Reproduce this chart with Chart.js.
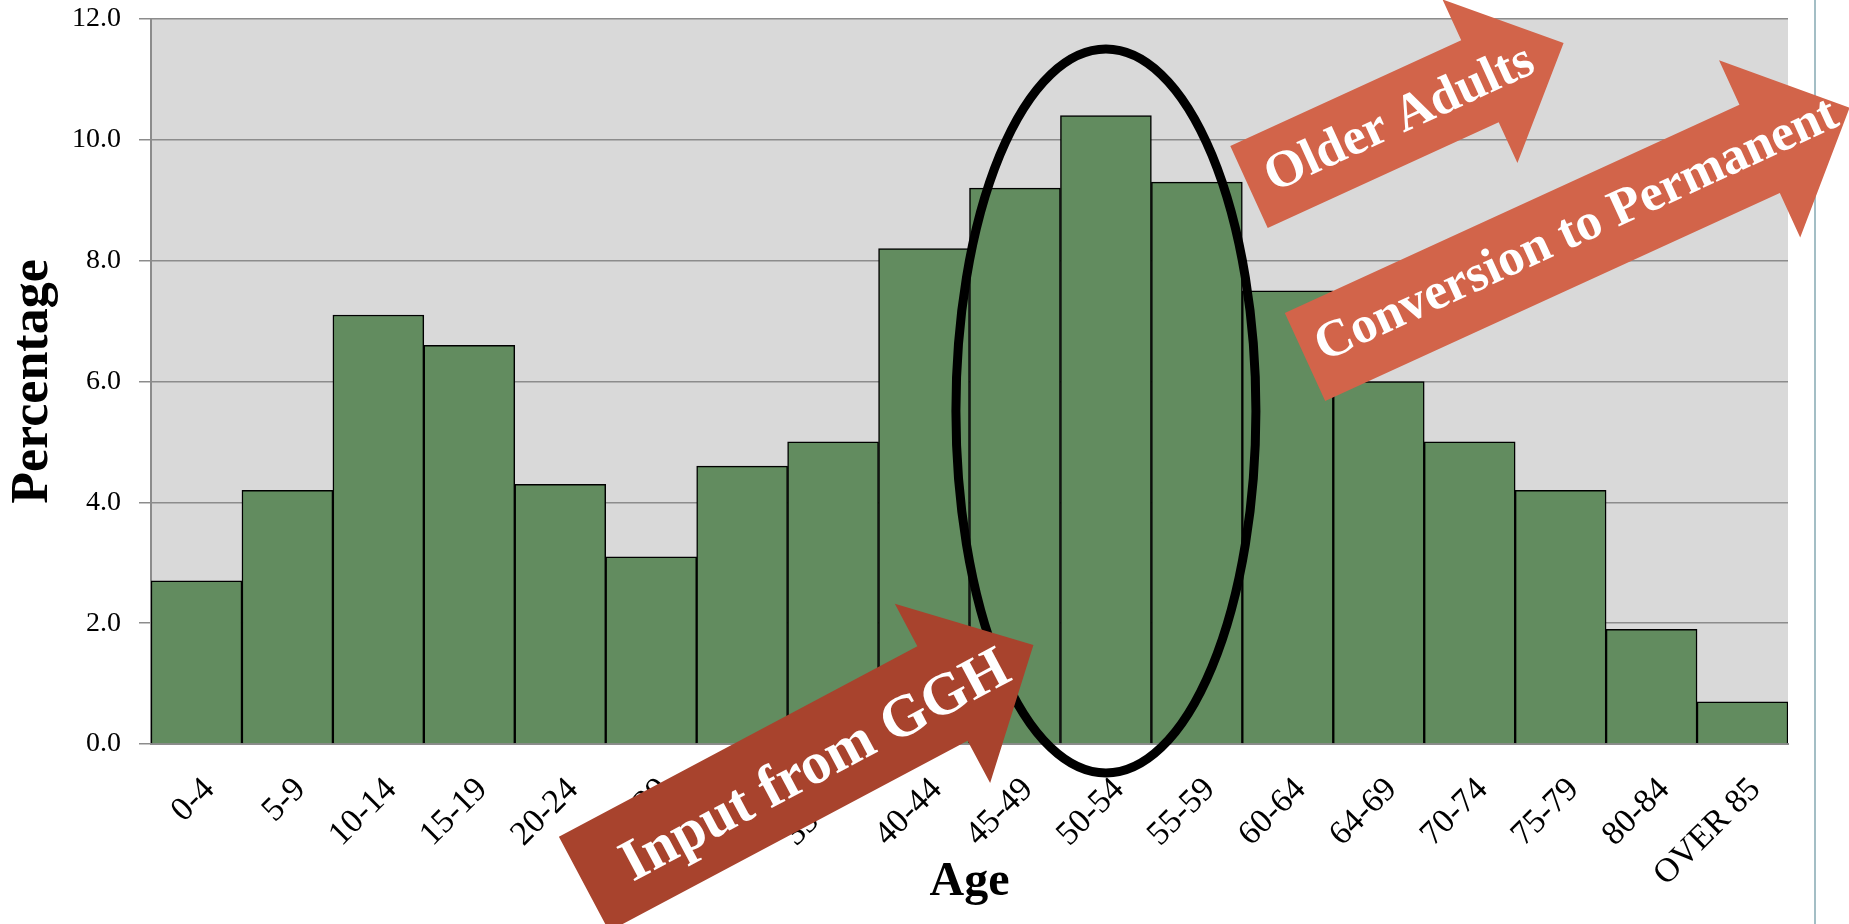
<!DOCTYPE html>
<html>
<head>
<meta charset="utf-8">
<script src="https://cdn.jsdelivr.net/npm/chart.js@4/dist/chart.umd.min.js"></script>
<style>
  html, body { margin: 0; padding: 0; background: #fff; }
  #wrap { width: 1849px; height: 924px; }
</style>
</head>
<body>
<div id="wrap"><canvas id="ageChart" width="1849" height="924"></canvas></div>
<script>
const ageGroups = ['0-4', '5-9', '10-14', '15-19', '20-24', '25-29', '30-34', '35-39', '40-44',
    '45-49', '50-54', '55-59', '60-64', '64-69', '70-74', '75-79', '80-84', 'OVER 85'];
const percentages = [2.7, 4.2, 7.1, 6.6, 4.3, 3.1, 4.6, 5.0, 8.2, 9.2, 10.4, 9.3, 7.5, 6.0, 5.0, 4.2, 1.9, 0.7];
const yMin = 0, yMax = 12, yStep = 2;

const SERIF = '"Liberation Serif", "DejaVu Serif", serif';

// callouts drawn over the chart (pixel positions, not data)
const callouts = [
    { text: 'Older Adults', color: '#d2644a', x: 1249, y: 187, angle: -24.6, shaft: 254, width: 90, headWidth: 180, head: 92, font: 52, textAt: 20, base: 15 },
    { text: 'Conversion to Permanent', color: '#d2644a', x: 1305, y: 357, angle: -24.6, shaft: 500, width: 97, headWidth: 195, head: 99, font: 52, textAt: 15, base: 12 },
    { text: 'Input from GGH', color: '#a8432d', x: 584, y: 884, angle: -28, shaft: 406, width: 107, headWidth: 203, head: 103, font: 59, textAt: 44, base: 21 }
];

const decorPlugin = {
    id: 'decor',
    beforeDraw(chart) {
        const { ctx, chartArea: a } = chart;
        ctx.save();
        ctx.fillStyle = '#ffffff';
        ctx.fillRect(0, 0, chart.width, chart.height);
        ctx.fillStyle = '#d9d9d9';
        ctx.fillRect(a.left, a.top, a.right - a.left, a.bottom - a.top);
        ctx.restore();
    },
    afterDraw(chart) {
        const { ctx } = chart;
        const xs = chart.scales.x;

        // slide border on the right
        ctx.save();
        ctx.strokeStyle = '#a3bec5';
        ctx.lineWidth = 2;
        ctx.beginPath();
        ctx.moveTo(1815, 0);
        ctx.lineTo(1815, chart.height);
        ctx.stroke();

        // ellipse around 45-59
        ctx.strokeStyle = '#000';
        ctx.lineWidth = 9;
        ctx.beginPath();
        ctx.ellipse(xs.getPixelForValue(10), 411, 150, 362, 0, 0, Math.PI * 2);
        ctx.stroke();
        ctx.restore();

        callouts.forEach(c => {
            ctx.save();
            ctx.translate(c.x, c.y);
            ctx.rotate(c.angle * Math.PI / 180);
            ctx.fillStyle = c.color;
            ctx.beginPath();
            ctx.moveTo(0, -c.width / 2);
            ctx.lineTo(c.shaft, -c.width / 2);
            ctx.lineTo(c.shaft, -c.headWidth / 2);
            ctx.lineTo(c.shaft + c.head, 0);
            ctx.lineTo(c.shaft, c.headWidth / 2);
            ctx.lineTo(c.shaft, c.width / 2);
            ctx.lineTo(0, c.width / 2);
            ctx.closePath();
            ctx.fill();
            ctx.fillStyle = '#fff';
            ctx.font = `bold ${c.font}px ${SERIF}`;
            ctx.textAlign = 'left';
            ctx.textBaseline = 'alphabetic';
            ctx.fillText(c.text, c.textAt, c.base);
            ctx.restore();
        });
    }
};

new Chart(document.getElementById('ageChart'), {
    type: 'bar',
    data: {
        labels: ageGroups,
        datasets: [{
            data: percentages,
            backgroundColor: '#628c5f',
            borderColor: '#000',
            borderWidth: 1.5,
            barPercentage: 1,
            categoryPercentage: 1
        }]
    },
    options: {
        responsive: false,
        devicePixelRatio: 1,
        animation: false,
        layout: { padding: { left: 0, right: 61, top: 19, bottom: 0 } },
        plugins: { legend: { display: false }, tooltip: { enabled: false } },
        scales: {
            x: {
                afterFit: s => { s.height = 180; s.paddingLeft = 0; s.paddingRight = 0; },
                grid: { display: true, drawOnChartArea: false, drawTicks: false, color: 'transparent' },
                border: { display: true, color: '#8c8c8c', width: 2 },
                ticks: {
                    autoSkip: false, minRotation: 45, maxRotation: 45,
                    padding: 26, labelOffset: 13,
                    color: '#000', font: { family: SERIF, size: 34 }
                },
                title: {
                    display: true, text: 'Age', color: '#000',
                    font: { family: SERIF, size: 48, weight: 'bold' },
                    padding: { top: 0, bottom: 13 }
                }
            },
            y: {
                min: yMin, max: yMax,
                afterFit: s => { s.width = 151; s.paddingTop = 0; s.paddingBottom = 0; },
                grid: { color: '#8c8c8c', lineWidth: 1.5, tickLength: 12 },
                border: { display: true, color: '#8c8c8c', width: 2 },
                ticks: {
                    stepSize: yStep, padding: 18, color: '#000',
                    font: { family: SERIF, size: 28 },
                    callback: v => v.toFixed(1)
                },
                title: {
                    display: true, text: 'Percentage', color: '#000',
                    font: { family: SERIF, size: 52, weight: 'bold' },
                    padding: { top: 2, bottom: 0 }
                }
            }
        }
    },
    plugins: [decorPlugin]
});
</script>
</body>
</html>
